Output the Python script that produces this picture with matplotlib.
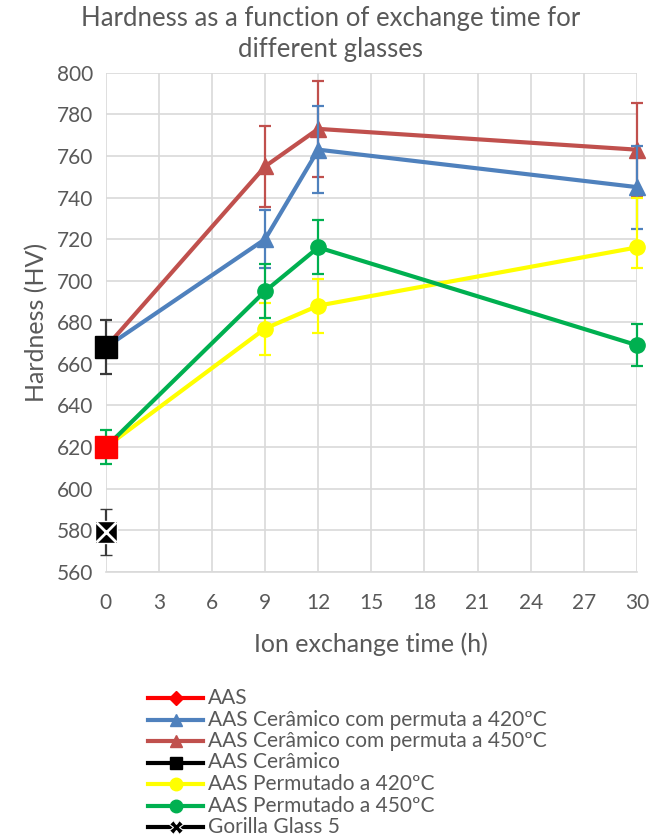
import numpy as np
import matplotlib
matplotlib.use("Agg")
import matplotlib.pyplot as plt
from matplotlib.lines import Line2D

plt.rcParams['font.family'] = ['Lato', 'DejaVu Sans']

# series data (time in h, hardness in HV, error bars)
t_full = [0, 9, 12, 30]

cer420 = [668, 720, 763, 745]
cer420_err = [0, 14, 21, 20]

cer450 = [668, 755, 773, 763]
cer450_err = [0, 19.5, 23, 22.5]

perm420 = [620, 677, 688, 716]
perm420_lo = [0, 12.5, 13, 10]
perm420_hi = [0, 12.5, 13, 24]

perm450 = [620, 695, 716, 669]
perm450_err = [8, 13, 13, 10]

aas_t, aas_val, aas_err = [0], [620], [0]
ceramico_t, ceramico_val, ceramico_err = [0], [668], [13]
gorilla_t, gorilla_val, gorilla_err = [0], [579], [11]

labels = ['AAS', 'AAS Cerâmico com permuta a 420ºC', 'AAS Cerâmico com permuta a 450ºC',
          'AAS Cerâmico', 'AAS Permutado a 420ºC', 'AAS Permutado a 450ºC', 'Gorilla Glass 5']

c_red = '#ff0000'
c_blue = '#4f81bd'
c_brown = '#c0504d'
c_yellow = '#ffff00'
c_green = '#00b050'
c_text = '#595959'

W, H = 662, 836
fig = plt.figure(figsize=(W / 100, H / 100), dpi=100)
ax = fig.add_axes([0.160, 0.316, 0.802, 0.597])

lw = 3
ms = 11

def noclip(cont):
    for a in cont.get_children():
        a.set_clip_on(False)

def series(x, y, err, color, marker, size, z, **kw):
    c = ax.errorbar(x, y, yerr=err, color=color, lw=lw, marker=marker, ms=size,
                    elinewidth=1.6, capsize=4.3, capthick=1.6, zorder=z, **kw)
    noclip(c)

series(t_full, cer450, cer450_err, c_brown, '^', ms, 3)
series(t_full, cer420, cer420_err, c_blue, '^', ms, 3.1)
series(t_full, perm420, [perm420_lo, perm420_hi], c_yellow, 'o', ms, 3.2)
series(t_full, perm450, perm450_err, c_green, 'o', ms, 3.3)
series(ceramico_t, ceramico_val, ceramico_err, '#3a3a3a', 's', 16, 4, mfc='black', mec='black')
series(aas_t, aas_val, aas_err, c_red, 's', 16, 4)
series(gorilla_t, gorilla_val, gorilla_err, '#3a3a3a', 's', 16, 4, mfc='black', mec='white', mew=1)
gx = ax.plot(gorilla_t, gorilla_val, marker='x', color='white', ms=15, mew=2, ls='none', zorder=5)
gx[0].set_clip_on(False)

ax.set_xlim(0, 30)
ax.set_ylim(560, 800)
ax.set_xticks(np.arange(0, 31, 3))
ax.set_yticks(np.arange(560, 801, 20))
ax.grid(True, color='#d9d9d9', lw=1.2, zorder=0)
ax.set_axisbelow(True)
for s in ['top', 'right', 'left']:
    ax.spines[s].set_visible(False)
ax.spines['bottom'].set_color('#d9d9d9')
ax.spines['bottom'].set_linewidth(1.2)
ax.tick_params(length=0, labelsize=15, colors=c_text)
ax.tick_params(axis='x', pad=15)
ax.tick_params(axis='y', pad=9)

ax.set_xlabel('Ion exchange time (h)', fontsize=18, color=c_text, labelpad=14)
ax.set_ylabel('Hardness (HV)', fontsize=18, color=c_text, labelpad=6)
fig.text(0.5, 1 - 62 / H, 'Hardness as a function of exchange time for\ndifferent glasses',
         ha='center', va='bottom', fontsize=18.5, color=c_text, linespacing=1.3)

# legend drawn row by row below the plot
handles = [
    dict(color=c_red, marker='D', ms=7),
    dict(color=c_blue, marker='^', ms=9),
    dict(color=c_brown, marker='^', ms=9),
    dict(color='#000000', marker='s', ms=8),
    dict(color=c_yellow, marker='o', ms=9),
    dict(color=c_green, marker='o', ms=9),
    dict(color='#000000', marker='X', ms=10, mec='white', mfc='black', mew=0.8),
]
for i, (lab, h) in enumerate(zip(labels, handles)):
    y = 1 - (698 + i * 21.5) / H
    fig.add_artist(Line2D([148 / W, 203 / W], [y, y], color=h['color'], lw=lw,
                          transform=fig.transFigure))
    fig.add_artist(Line2D([175.5 / W], [y], ls='none', transform=fig.transFigure, **h))
    fig.text(208 / W, y, lab, ha='left', va='center', fontsize=15, color=c_text)

fig.savefig('out.png', dpi=100)
